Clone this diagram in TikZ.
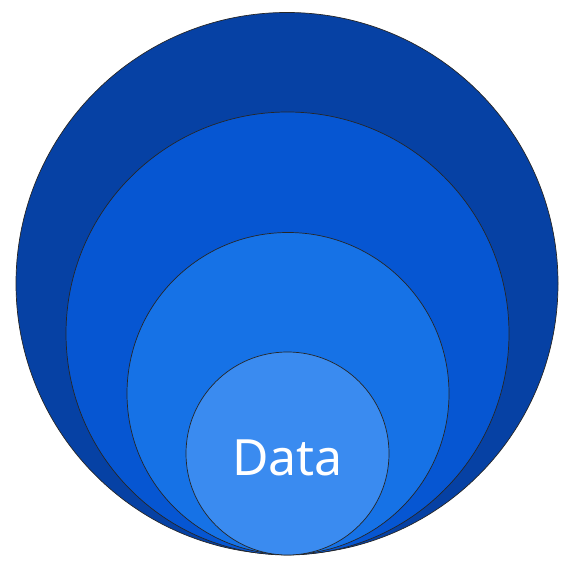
\documentclass[tikz,border=0pt]{standalone}
\usepackage{fontspec}
\newfontfamily\labelfont{Noto Sans}
\definecolor{ringA}{HTML}{0641A4}
\definecolor{ringB}{HTML}{0656D2}
\definecolor{ringC}{HTML}{1672E6}
\definecolor{ringD}{HTML}{3A8BF0}
\tikzset{ring/.style={draw=black!85, line width=0.7pt}}
\begin{document}
\begin{tikzpicture}[x=1pt,y=1pt]
\useasboundingbox (0,0) rectangle (562,567);
\filldraw[ring, fill=ringA] (287,283.5) circle (271);
\filldraw[ring, fill=ringB] (287.5,233.5) circle (221.5);
\filldraw[ring, fill=ringC] (288,173.5) circle (161);
\filldraw[ring, fill=ringD] (287.5,113.5) circle (101.5);
\node[anchor=base, text=white, inner sep=0pt, font=\labelfont\fontsize{50}{60}\selectfont] (data) at (287.5,91) {Data};
\end{tikzpicture}
\end{document}
